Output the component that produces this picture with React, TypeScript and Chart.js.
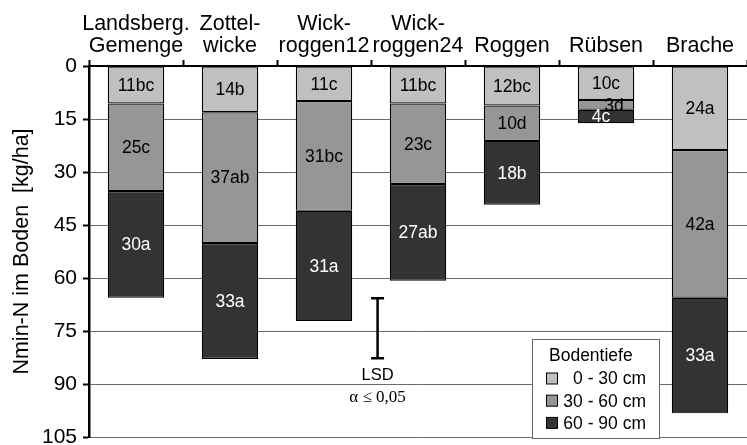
import React, { useEffect, useRef } from "react";
import { Chart, registerables } from "chart.js";

Chart.register(...registerables);

const categories: (string | string[])[] = [
  ["Landsberg.", "Gemenge"],
  ["Zottel-", "wicke"],
  ["Wick-", "roggen12"],
  ["Wick-", "roggen24"],
  "Roggen",
  "Rübsen",
  "Brache",
];
const seriesNames = ["0 - 30 cm", "30 - 60 cm", "60 - 90 cm"];
const depth0to30 = [10.6, 13.1, 9.9, 10.6, 11.2, 9.6, 23.8];
const depth30to60 = [24.8, 37.0, 31.1, 22.8, 10.0, 2.8, 41.8];
const depth60to90 = [30.2, 32.8, 31.2, 27.4, 18.1, 3.8, 32.7];
const labels0to30 = ["11bc", "14b", "11c", "11bc", "12bc", "10c", "24a"];
const labels30to60 = ["25c", "37ab", "31bc", "23c", "10d", "3d", "42a"];
const labels60to90 = ["30a", "33a", "31a", "27ab", "18b", "4c", "33a"];
const yMin = 0;
const yMax = 105;
const yStep = 15;
const lsdRange = [65.7, 82.7];
const lsdCategoryPos = 2.57;
const legendTitle = "Bodentiefe";
const yTitle = "Nmin-N im Boden  [kg/ha]";

const colors = ["#c0c0c0", "#969696", "#333333"];
const textColors = ["#000000", "#000000", "#ffffff"];
const SANS = "'Liberation Sans', Arial, Helvetica, sans-serif";
const SERIF = "'Liberation Serif', 'Times New Roman', serif";

const segmentLabels = [labels0to30, labels30to60, labels60to90];

const barLabelPlugin = {
  id: "barLabels",
  afterDatasetsDraw(chart: any) {
    const ctx = chart.ctx;
    ctx.save();
    ctx.font = `17.5px ${SANS}`;
    ctx.textAlign = "center";
    ctx.textBaseline = "middle";
    chart.data.datasets.forEach((ds: any, i: number) => {
      const meta = chart.getDatasetMeta(i);
      meta.data.forEach((bar: any, j: number) => {
        const p = bar.getProps(["x", "y", "base"], true);
        const cy = (p.y + p.base) / 2;
        let dx = 0;
        if (j === 5 && i === 1) dx = 8;
        if (j === 5 && i === 2) dx = -5;
        ctx.fillStyle = textColors[i];
        ctx.fillText(segmentLabels[i][j], p.x + dx, cy + 1);
      });
    });
    ctx.restore();
  },
};

const extrasPlugin = {
  id: "extras",
  afterDraw(chart: any) {
    const ctx = chart.ctx;
    const xs = chart.scales.x;
    const ys = chart.scales.y;
    const area = chart.chartArea;
    ctx.save();
    // LSD bar
    const lx = xs.getPixelForValue(lsdCategoryPos);
    const lt = ys.getPixelForValue(lsdRange[0]);
    const lb = ys.getPixelForValue(lsdRange[1]);
    ctx.strokeStyle = "#000";
    ctx.lineWidth = 2.5;
    ctx.beginPath();
    ctx.moveTo(lx, lt);
    ctx.lineTo(lx, lb);
    ctx.moveTo(lx - 6.5, lt);
    ctx.lineTo(lx + 6.5, lt);
    ctx.moveTo(lx - 6.5, lb);
    ctx.lineTo(lx + 6.5, lb);
    ctx.stroke();
    ctx.fillStyle = "#000";
    ctx.textAlign = "center";
    ctx.textBaseline = "middle";
    ctx.font = `16.5px ${SANS}`;
    ctx.fillText("LSD", lx, lb + 17);
    ctx.font = `17px ${SERIF}`;
    ctx.fillText("\u03b1 \u2264 0,05", lx, lb + 39);

    // Legend
    const bx = area.right - 215;
    const by = area.bottom - 98;
    const bw = 127;
    const bh = 99;
    ctx.fillStyle = "#fff";
    ctx.fillRect(bx, by, bw, bh);
    ctx.strokeStyle = "#666";
    ctx.lineWidth = 1;
    ctx.strokeRect(bx + 0.5, by + 0.5, bw, bh);
    ctx.fillStyle = "#000";
    ctx.textAlign = "left";
    ctx.font = `17.5px ${SANS}`;
    ctx.fillText(legendTitle, bx + 17, by + 17);
    seriesNames.forEach((name, i) => {
      const cy = by + 39.5 + i * 22.2;
      ctx.fillStyle = colors[i];
      ctx.fillRect(bx + 14, cy - 5.5, 11, 11);
      ctx.strokeStyle = "#000";
      ctx.lineWidth = 1;
      ctx.strokeRect(bx + 14.5, cy - 5.5, 11, 11);
      ctx.fillStyle = "#000";
      ctx.textAlign = "right";
      ctx.fillText(name, bx + 114, cy + 1);
    });
    ctx.restore();
  },
};

export default function App() {
  const canvasRef = useRef<HTMLCanvasElement | null>(null);

  useEffect(() => {
    if (!canvasRef.current) return;
    const mk = (data: number[], i: number) => ({
      label: seriesNames[i],
      data,
      backgroundColor: colors[i],
      borderColor: "#000",
      borderWidth: 1.2,
      borderSkipped: false,
      barPercentage: 0.6,
      categoryPercentage: 1.0,
    });
    const chart = new Chart(canvasRef.current, {
      type: "bar",
      data: {
        labels: categories,
        datasets: [mk(depth0to30, 0), mk(depth30to60, 1), mk(depth60to90, 2)],
      },
      options: {
        animation: false,
        responsive: true,
        maintainAspectRatio: false,
        layout: { padding: { left: 0, right: 0, top: 0, bottom: 8 } },
        plugins: {
          legend: { display: false },
          tooltip: { enabled: false },
        },
        scales: {
          x: {
            type: "category",
            position: "top",
            stacked: true,
            offset: true,
            grid: {
              offset: true,
              drawOnChartArea: false,
              drawTicks: true,
              tickLength: 6,
              tickColor: "#000",
              tickWidth: 2,
            },
            border: { display: true, color: "#000", width: 2 },
            ticks: {
              color: "#000",
              font: { family: SANS, size: 21.5, lineHeight: 1.02 },
              padding: 3,
              maxRotation: 0,
              autoSkip: false,
            },
            afterFit(scale: any) {
              scale.height = 66;
              scale.paddingLeft = 0;
              scale.paddingRight = 0;
            },
          },
          y: {
            type: "linear",
            stacked: true,
            reverse: true,
            min: yMin,
            max: yMax,
            grid: {
              color: "#6a6a6a",
              lineWidth: 1,
              tickColor: "#000",
              tickWidth: 2,
              tickLength: 6,
            },
            border: { display: true, color: "#000", width: 2.5 },
            ticks: {
              stepSize: yStep,
              color: "#000",
              font: { family: SANS, size: 21, lineHeight: 0.75 },
              padding: 6,
            },
            title: {
              display: true,
              text: yTitle,
              color: "#000",
              font: { family: SANS, size: 21.5, lineHeight: 1.2 },
              padding: { top: 9, bottom: 0 },
            },
            afterFit(scale: any) {
              scale.width = 89;
              scale.paddingTop = 0;
              scale.paddingBottom = 0;
            },
          },
        },
      },
      plugins: [barLabelPlugin, extrasPlugin],
    } as any);
    return () => chart.destroy();
  }, []);

  return (
    <div style={{ position: "absolute", left: 0, top: 0, width: 747, height: 445 }}>
      <canvas ref={canvasRef} />
    </div>
  );
}
